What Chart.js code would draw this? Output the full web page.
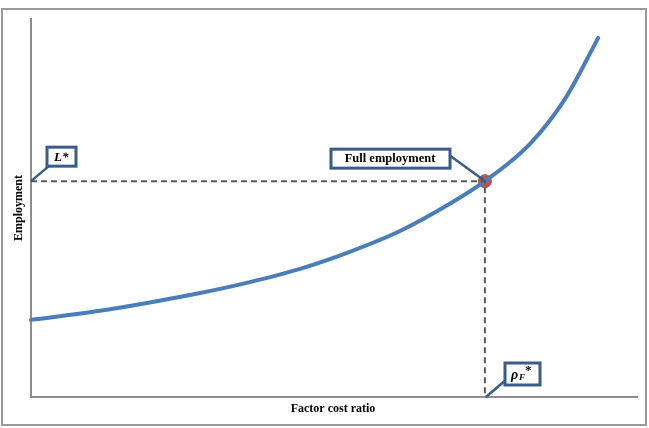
<!DOCTYPE html>
<html>
<head>
<meta charset="utf-8">
<script src="https://cdn.jsdelivr.net/npm/chart.js@4/dist/chart.umd.min.js"></script>
<style>
  html, body { margin: 0; padding: 0; background: #fff; }
  #wrap { width: 649px; height: 428px; }
</style>
</head>
<body>
<div id="wrap"><canvas id="chart" width="649" height="428"></canvas></div>
<script>
// curve (axes run 0..100 in both directions)
const curveX = [0, 11.4, 19.6, 27.9, 36.1, 44.4, 52.6, 60.9, 69.1, 74.9, 82.3, 88.1, 93.6];
const curveY = [20.4, 22.8, 25.0, 27.5, 30.4, 33.9, 38.4, 43.9, 51.1, 57.1, 66.9, 78.8, 95.0];

// full employment point
const rhoF = 74.9;
const lStar = 57.1;

const xTitle = 'Factor cost ratio';
const yTitle = 'Employment';

const blue = '#4a7ebb';
const boxBlue = '#385d8a';
const serif = '"Liberation Serif", "DejaVu Serif", serif';

// frame, axis titles and the callout boxes
const decorations = {
  id: 'decorations',
  beforeDraw(chart) {
    const ctx = chart.ctx;
    ctx.save();
    ctx.fillStyle = '#fff';
    ctx.fillRect(0, 0, chart.width, chart.height);
    ctx.strokeStyle = '#9a9a9a';
    ctx.lineWidth = 2;
    ctx.strokeRect(2, 9, 644, 416);
    ctx.restore();
  },
  afterDraw(chart) {
    const ctx = chart.ctx;
    const xs = chart.scales.x, ys = chart.scales.y;
    const px = xs.getPixelForValue(rhoF);
    const py = ys.getPixelForValue(lStar);
    const x0 = xs.getPixelForValue(0);
    const y0 = ys.getPixelForValue(0);

    ctx.save();
    ctx.fillStyle = '#000';
    ctx.font = 'bold 12px ' + serif;
    ctx.textAlign = 'center';
    ctx.textBaseline = 'middle';
    ctx.fillText(xTitle, (xs.left + xs.right) / 2 - 1, 409);
    ctx.translate(19, (ys.top + ys.bottom) / 2);
    ctx.rotate(-Math.PI / 2);
    ctx.fillText(yTitle, 0, 0);
    ctx.restore();

    function callout(bx, by, bw, bh, fromX, fromY, toX, toY) {
      ctx.save();
      ctx.strokeStyle = boxBlue;
      ctx.lineWidth = 2.5;
      ctx.beginPath();
      ctx.moveTo(fromX, fromY);
      ctx.lineTo(toX, toY);
      ctx.stroke();
      ctx.fillStyle = '#fff';
      ctx.fillRect(bx, by, bw, bh);
      ctx.lineWidth = 3;
      ctx.strokeRect(bx, by, bw, bh);
      ctx.restore();
    }

    // L*
    callout(47, py - 34, 29, 19, 50, py - 16, x0, py);
    ctx.save();
    ctx.fillStyle = '#000';
    ctx.font = 'italic bold 13px ' + serif;
    ctx.textBaseline = 'middle';
    ctx.fillText('L*', 54, py - 24);
    ctx.restore();

    // Full employment
    callout(331, py - 32, 119, 19, 448, py - 27, px - 1, py - 1);
    ctx.save();
    ctx.fillStyle = '#000';
    ctx.font = 'bold 12.5px ' + serif;
    ctx.textAlign = 'center';
    ctx.textBaseline = 'middle';
    ctx.fillText('Full employment', 390, py - 22);
    ctx.restore();

    // rho_F*
    callout(505, y0 - 34, 35, 22, 507, y0 - 18, px + 1, y0);
    ctx.save();
    ctx.fillStyle = '#000';
    ctx.textBaseline = 'middle';
    ctx.font = 'italic bold 14px ' + serif;
    ctx.fillText('\u03C1', 511, y0 - 22);
    ctx.font = 'italic bold 9px ' + serif;
    ctx.fillText('F', 519, y0 - 19);
    ctx.font = 'bold 13px ' + serif;
    ctx.fillText('*', 525, y0 - 26);
    ctx.restore();
  }
};

new Chart(document.getElementById('chart'), {
  type: 'line',
  data: {
    datasets: [
      {
        label: 'guides',
        data: [{ x: 0, y: lStar }, { x: rhoF, y: lStar }, { x: rhoF, y: 0 }],
        borderColor: '#595959',
        borderWidth: 2,
        borderDash: [6, 4],
        pointRadius: 0,
        tension: 0,
        clip: false
      },
      {
        label: 'Employment',
        data: curveX.map((x, i) => ({ x, y: curveY[i] })),
        borderColor: blue,
        borderWidth: 4,
        pointRadius: 0,
        cubicInterpolationMode: 'monotone',
        borderCapStyle: 'round',
        clip: false
      },
      {
        label: 'Full employment',
        data: [{ x: rhoF, y: lStar }],
        showLine: false,
        pointRadius: 6.5,
        pointBackgroundColor: '#c0504d',
        pointBorderColor: '#c0504d',
        clip: false
      }
    ]
  },
  options: {
    responsive: false,
    animation: false,
    events: [],
    layout: { padding: { left: 31, top: 19, right: 12, bottom: 31 } },
    plugins: { legend: { display: false }, tooltip: { enabled: false } },
    scales: {
      x: {
        type: 'linear', min: 0, max: 100,
        ticks: { display: false },
        grid: { display: false, drawTicks: false },
        border: { display: true, color: '#8c8c8c', width: 2 }
      },
      y: {
        type: 'linear', min: 0, max: 100,
        ticks: { display: false },
        grid: { display: false, drawTicks: false },
        border: { display: true, color: '#8c8c8c', width: 2 }
      }
    }
  },
  plugins: [decorations]
});
</script>
</body>
</html>
